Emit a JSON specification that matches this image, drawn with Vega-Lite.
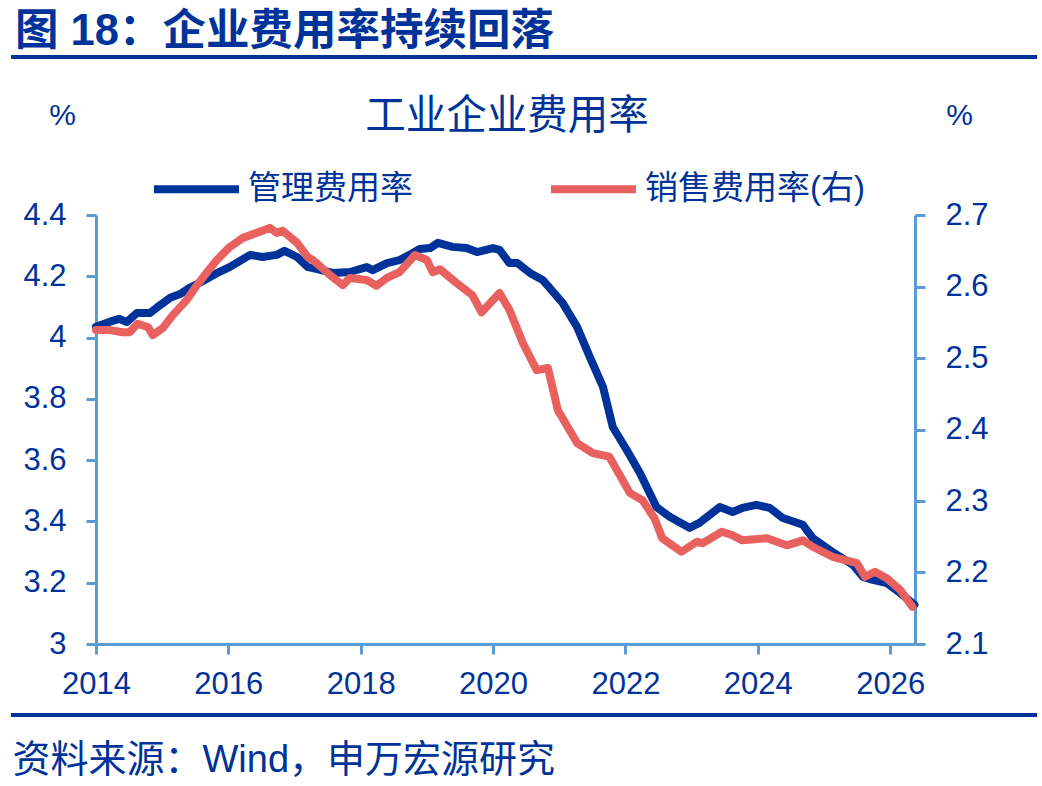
{
  "$schema": "https://vega.github.io/schema/vega-lite/v6.json",
  "width": 819,
  "height": 429,
  "autosize": {"type": "none"},
  "padding": {"left": 96, "top": 215, "right": 127, "bottom": 142},
  "background": "white",
  "title": {
    "text": "图 18：企业费用率持续回落",
    "anchor": "start",
    "frame": "group",
    "dx": -81,
    "offset": 1,
    "fontSize": 43.5,
    "fontWeight": "bold",
    "font": "Liberation Sans, Noto Sans CJK SC",
    "color": "#003399"
  },
  "data": {
    "values": [
      {"date": "2014-01-01", "series": "管理费用率", "value": 4.035},
      {"date": "2014-03-15", "series": "管理费用率", "value": 4.051},
      {"date": "2014-05-10", "series": "管理费用率", "value": 4.061},
      {"date": "2014-06-20", "series": "管理费用率", "value": 4.051},
      {"date": "2014-08-15", "series": "管理费用率", "value": 4.08},
      {"date": "2014-10-25", "series": "管理费用率", "value": 4.08},
      {"date": "2014-12-01", "series": "管理费用率", "value": 4.097},
      {"date": "2015-02-15", "series": "管理费用率", "value": 4.13},
      {"date": "2015-04-10", "series": "管理费用率", "value": 4.142},
      {"date": "2015-06-01", "series": "管理费用率", "value": 4.162},
      {"date": "2015-07-25", "series": "管理费用率", "value": 4.178},
      {"date": "2015-10-30", "series": "管理费用率", "value": 4.21},
      {"date": "2016-01-08", "series": "管理费用率", "value": 4.23},
      {"date": "2016-05-01", "series": "管理费用率", "value": 4.27},
      {"date": "2016-07-08", "series": "管理费用率", "value": 4.263},
      {"date": "2016-09-24", "series": "管理费用率", "value": 4.27},
      {"date": "2016-11-06", "series": "管理费用率", "value": 4.283},
      {"date": "2017-01-15", "series": "管理费用率", "value": 4.263},
      {"date": "2017-03-15", "series": "管理费用率", "value": 4.23},
      {"date": "2017-04-12", "series": "管理费用率", "value": 4.227},
      {"date": "2017-07-30", "series": "管理费用率", "value": 4.211},
      {"date": "2017-11-02", "series": "管理费用率", "value": 4.214},
      {"date": "2018-02-03", "series": "管理费用率", "value": 4.23},
      {"date": "2018-03-08", "series": "管理费用率", "value": 4.22},
      {"date": "2018-05-26", "series": "管理费用率", "value": 4.243},
      {"date": "2018-08-03", "series": "管理费用率", "value": 4.253},
      {"date": "2018-10-16", "series": "管理费用率", "value": 4.276},
      {"date": "2018-11-22", "series": "管理费用率", "value": 4.289},
      {"date": "2019-01-19", "series": "管理费用率", "value": 4.292},
      {"date": "2019-03-03", "series": "管理费用率", "value": 4.309},
      {"date": "2019-05-23", "series": "管理费用率", "value": 4.296},
      {"date": "2019-08-08", "series": "管理费用率", "value": 4.292},
      {"date": "2019-10-05", "series": "管理费用率", "value": 4.279},
      {"date": "2020-01-01", "series": "管理费用率", "value": 4.292},
      {"date": "2020-02-06", "series": "管理费用率", "value": 4.286},
      {"date": "2020-04-01", "series": "管理费用率", "value": 4.243},
      {"date": "2020-05-15", "series": "管理费用率", "value": 4.243},
      {"date": "2020-07-23", "series": "管理费用率", "value": 4.211},
      {"date": "2020-10-01", "series": "管理费用率", "value": 4.188},
      {"date": "2021-01-19", "series": "管理费用率", "value": 4.113},
      {"date": "2021-04-09", "series": "管理费用率", "value": 4.035},
      {"date": "2021-06-18", "series": "管理费用率", "value": 3.937},
      {"date": "2021-08-30", "series": "管理费用率", "value": 3.839},
      {"date": "2021-10-23", "series": "管理费用率", "value": 3.708},
      {"date": "2022-01-08", "series": "管理费用率", "value": 3.633},
      {"date": "2022-03-22", "series": "管理费用率", "value": 3.558},
      {"date": "2022-06-21", "series": "管理费用率", "value": 3.447},
      {"date": "2022-09-02", "series": "管理费用率", "value": 3.415},
      {"date": "2022-12-20", "series": "管理费用率", "value": 3.379},
      {"date": "2023-02-13", "series": "管理费用率", "value": 3.395},
      {"date": "2023-06-06", "series": "管理费用率", "value": 3.447},
      {"date": "2023-08-15", "series": "管理费用率", "value": 3.431},
      {"date": "2023-10-08", "series": "管理费用率", "value": 3.444},
      {"date": "2023-12-24", "series": "管理费用率", "value": 3.454},
      {"date": "2024-03-07", "series": "管理费用率", "value": 3.444},
      {"date": "2024-05-19", "series": "管理费用率", "value": 3.411},
      {"date": "2024-09-06", "series": "管理费用率", "value": 3.389},
      {"date": "2024-10-30", "series": "管理费用率", "value": 3.346},
      {"date": "2025-02-17", "series": "管理费用率", "value": 3.3},
      {"date": "2025-06-10", "series": "管理费用率", "value": 3.258},
      {"date": "2025-08-04", "series": "管理费用率", "value": 3.219},
      {"date": "2025-09-28", "series": "管理费用率", "value": 3.209},
      {"date": "2025-12-13", "series": "管理费用率", "value": 3.199},
      {"date": "2026-02-24", "series": "管理费用率", "value": 3.167},
      {"date": "2026-05-15", "series": "管理费用率", "value": 3.128},
      {"date": "2014-01-01", "series": "销售费用率(右)", "value": 2.539},
      {"date": "2014-03-17", "series": "销售费用率(右)", "value": 2.539},
      {"date": "2014-05-28", "series": "销售费用率(右)", "value": 2.536},
      {"date": "2014-07-05", "series": "销售费用率(右)", "value": 2.536},
      {"date": "2014-08-19", "series": "销售费用率(右)", "value": 2.548},
      {"date": "2014-10-16", "series": "销售费用率(右)", "value": 2.543},
      {"date": "2014-11-10", "series": "销售费用率(右)", "value": 2.532},
      {"date": "2015-01-05", "series": "销售费用率(右)", "value": 2.542},
      {"date": "2015-03-01", "series": "销售费用率(右)", "value": 2.56},
      {"date": "2015-05-16", "series": "销售费用率(右)", "value": 2.581},
      {"date": "2015-07-13", "series": "销售费用率(右)", "value": 2.602},
      {"date": "2015-09-06", "series": "销售费用率(右)", "value": 2.62},
      {"date": "2015-10-30", "series": "销售费用率(右)", "value": 2.637},
      {"date": "2016-01-08", "series": "销售费用率(右)", "value": 2.655},
      {"date": "2016-03-22", "series": "销售费用率(右)", "value": 2.668},
      {"date": "2016-06-06", "series": "销售费用率(右)", "value": 2.675},
      {"date": "2016-08-18", "series": "销售费用率(右)", "value": 2.682},
      {"date": "2016-09-24", "series": "销售费用率(右)", "value": 2.675},
      {"date": "2016-10-27", "series": "销售费用率(右)", "value": 2.678},
      {"date": "2017-01-15", "series": "销售费用率(右)", "value": 2.661},
      {"date": "2017-03-15", "series": "销售费用率(右)", "value": 2.641},
      {"date": "2017-04-12", "series": "销售费用率(右)", "value": 2.637},
      {"date": "2017-07-30", "series": "销售费用率(右)", "value": 2.613},
      {"date": "2017-09-24", "series": "销售费用率(右)", "value": 2.602},
      {"date": "2017-11-02", "series": "销售费用率(右)", "value": 2.612},
      {"date": "2018-02-03", "series": "销售费用率(右)", "value": 2.609},
      {"date": "2018-03-29", "series": "销售费用率(右)", "value": 2.601},
      {"date": "2018-05-26", "series": "销售费用率(右)", "value": 2.612},
      {"date": "2018-08-03", "series": "销售费用率(右)", "value": 2.62},
      {"date": "2018-10-27", "series": "销售费用率(右)", "value": 2.644},
      {"date": "2019-01-01", "series": "销售费用率(右)", "value": 2.637},
      {"date": "2019-02-03", "series": "销售费用率(右)", "value": 2.62},
      {"date": "2019-03-15", "series": "销售费用率(右)", "value": 2.624},
      {"date": "2019-06-13", "series": "销售费用率(右)", "value": 2.605},
      {"date": "2019-09-09", "series": "销售费用率(右)", "value": 2.588},
      {"date": "2019-10-30", "series": "销售费用率(右)", "value": 2.564},
      {"date": "2020-02-06", "series": "销售费用率(右)", "value": 2.591},
      {"date": "2020-04-01", "series": "销售费用率(右)", "value": 2.567},
      {"date": "2020-06-14", "series": "销售费用率(右)", "value": 2.521},
      {"date": "2020-08-29", "series": "销售费用率(右)", "value": 2.483},
      {"date": "2020-10-30", "series": "销售费用率(右)", "value": 2.486},
      {"date": "2020-12-24", "series": "销售费用率(右)", "value": 2.427},
      {"date": "2021-04-09", "series": "销售费用率(右)", "value": 2.381},
      {"date": "2021-07-05", "series": "销售费用率(右)", "value": 2.367},
      {"date": "2021-10-04", "series": "销售费用率(右)", "value": 2.362},
      {"date": "2022-01-26", "series": "销售费用率(右)", "value": 2.311},
      {"date": "2022-04-05", "series": "销售费用率(右)", "value": 2.301},
      {"date": "2022-06-10", "series": "销售费用率(右)", "value": 2.276},
      {"date": "2022-07-23", "series": "销售费用率(右)", "value": 2.248},
      {"date": "2022-11-06", "series": "销售费用率(右)", "value": 2.229},
      {"date": "2023-01-30", "series": "销售费用率(右)", "value": 2.243},
      {"date": "2023-03-03", "series": "销售费用率(右)", "value": 2.241},
      {"date": "2023-06-17", "series": "销售费用率(右)", "value": 2.257},
      {"date": "2023-08-15", "series": "销售费用率(右)", "value": 2.252},
      {"date": "2023-10-08", "series": "销售费用率(右)", "value": 2.245},
      {"date": "2024-02-21", "series": "销售费用率(右)", "value": 2.248},
      {"date": "2024-06-10", "series": "销售费用率(右)", "value": 2.238},
      {"date": "2024-09-06", "series": "销售费用率(右)", "value": 2.245},
      {"date": "2024-10-30", "series": "销售费用率(右)", "value": 2.236},
      {"date": "2025-02-17", "series": "销售费用率(右)", "value": 2.222},
      {"date": "2025-07-02", "series": "销售费用率(右)", "value": 2.213},
      {"date": "2025-08-15", "series": "销售费用率(右)", "value": 2.194},
      {"date": "2025-10-09", "series": "销售费用率(右)", "value": 2.201},
      {"date": "2025-12-13", "series": "销售费用率(右)", "value": 2.192},
      {"date": "2026-02-24", "series": "销售费用率(右)", "value": 2.176},
      {"date": "2026-05-04", "series": "销售费用率(右)", "value": 2.152}
    ]
  },
  "encoding": {
    "x": {
      "field": "date",
      "type": "temporal",
      "scale": {"domain": [{"year": 2014, "month": 1, "date": 1}, {"year": 2026, "month": 5, "date": 18}]},
      "axis": {
        "values": [{"year": 2014}, {"year": 2016}, {"year": 2018}, {"year": 2020}, {"year": 2022}, {"year": 2024}, {"year": 2026}],
        "format": "%Y",
        "labelFontSize": 31,
        "labelPadding": 15,
        "labelFlush": false,
        "title": "资料来源：Wind，申万宏源研究",
        "titleX": -84,
        "titleY": 127,
        "titleAlign": "left",
        "titleBaseline": "alphabetic",
        "titleFontSize": 38,
        "titleFontWeight": "normal"
      }
    }
  },
  "layer": [
    {
      "layer": [
        {
          "transform": [{"filter": "datum.series === '管理费用率'"}],
          "mark": {"type": "line", "strokeWidth": 8, "strokeJoin": "round", "strokeCap": "round"},
          "encoding": {
            "y": {
              "field": "value",
              "type": "quantitative",
              "scale": {"domain": [3, 4.4], "nice": false, "zero": false},
              "axis": {
                "orient": "left",
                "values": [3, 3.2, 3.4, 3.6, 3.8, 4, 4.2, 4.4],
                "format": "~g",
                "title": "%",
                "titleAngle": 0,
                "titleX": -34,
                "titleY": -100,
                "titleAlign": "center",
                "titleBaseline": "middle"
              }
            },
            "color": {
              "field": "series",
              "type": "nominal",
              "scale": {"domain": ["管理费用率", "销售费用率(右)"], "range": ["#003399", "#E8615F"]},
              "legend": {
                "title": "工业企业费用率",
                "orient": "none",
                "legendX": 54,
                "legendY": -118,
                "direction": "horizontal",
                "columns": 2,
                "columnPadding": 122,
                "symbolType": "stroke",
                "symbolSize": 7225,
                "symbolStrokeWidth": 8,
                "labelFontSize": 33,
                "labelOffset": 5,
                "titleFontSize": 40.5,
                "titleFontWeight": "normal",
                "titleAnchor": "middle",
                "titlePadding": 5,
                "titleLimit": 800
              }
            }
          }
        },
        {
          "mark": {"type": "rule", "strokeWidth": 4, "color": "#003399"},
          "encoding": {
            "x": {"datum": {"year": 2012, "month": 9, "date": 24}, "type": "temporal"},
            "x2": {"datum": {"year": 2028, "month": 3, "date": 16}},
            "y": {"datum": 4.9156, "type": "quantitative"}
          }
        },
        {
          "mark": {"type": "rule", "strokeWidth": 4, "color": "#003399"},
          "encoding": {
            "x": {"datum": {"year": 2012, "month": 9, "date": 24}, "type": "temporal"},
            "x2": {"datum": {"year": 2028, "month": 3, "date": 16}},
            "y": {"datum": 2.7683, "type": "quantitative"}
          }
        }
      ]
    },
    {
      "transform": [{"filter": "datum.series === '销售费用率(右)'"}],
      "mark": {"type": "line", "strokeWidth": 8, "strokeJoin": "round", "strokeCap": "round"},
      "encoding": {
        "y": {
          "field": "value",
          "type": "quantitative",
          "scale": {"domain": [2.1, 2.7], "nice": false, "zero": false},
          "axis": {
            "orient": "right",
            "values": [2.1, 2.2, 2.3, 2.4, 2.5, 2.6, 2.7],
            "format": "~g",
            "title": "%",
            "titleAngle": 0,
            "titleX": 44,
            "titleY": -100,
            "titleAlign": "center",
            "titleBaseline": "middle"
          }
        },
        "color": {"field": "series", "type": "nominal"}
      }
    }
  ],
  "resolve": {"scale": {"y": "independent"}},
  "config": {
    "view": {"stroke": null},
    "font": "Liberation Sans, Noto Sans CJK SC",
    "axis": {
      "grid": false,
      "domainColor": "#5B9BD5",
      "domainWidth": 3,
      "tickColor": "#5B9BD5",
      "tickWidth": 3,
      "tickSize": 10,
      "labelFontSize": 31,
      "labelColor": "#003399",
      "labelPadding": 20,
      "labelFont": "Liberation Sans, Noto Sans CJK SC",
      "titleFont": "Liberation Sans, Noto Sans CJK SC",
      "titleColor": "#003399",
      "titleFontSize": 30,
      "titleFontWeight": "normal"
    },
    "legend": {
      "labelColor": "#003399",
      "titleColor": "#003399",
      "labelFont": "Liberation Sans, Noto Sans CJK SC",
      "titleFont": "Liberation Sans, Noto Sans CJK SC",
      "labelLimit": 400
    }
  }
}
